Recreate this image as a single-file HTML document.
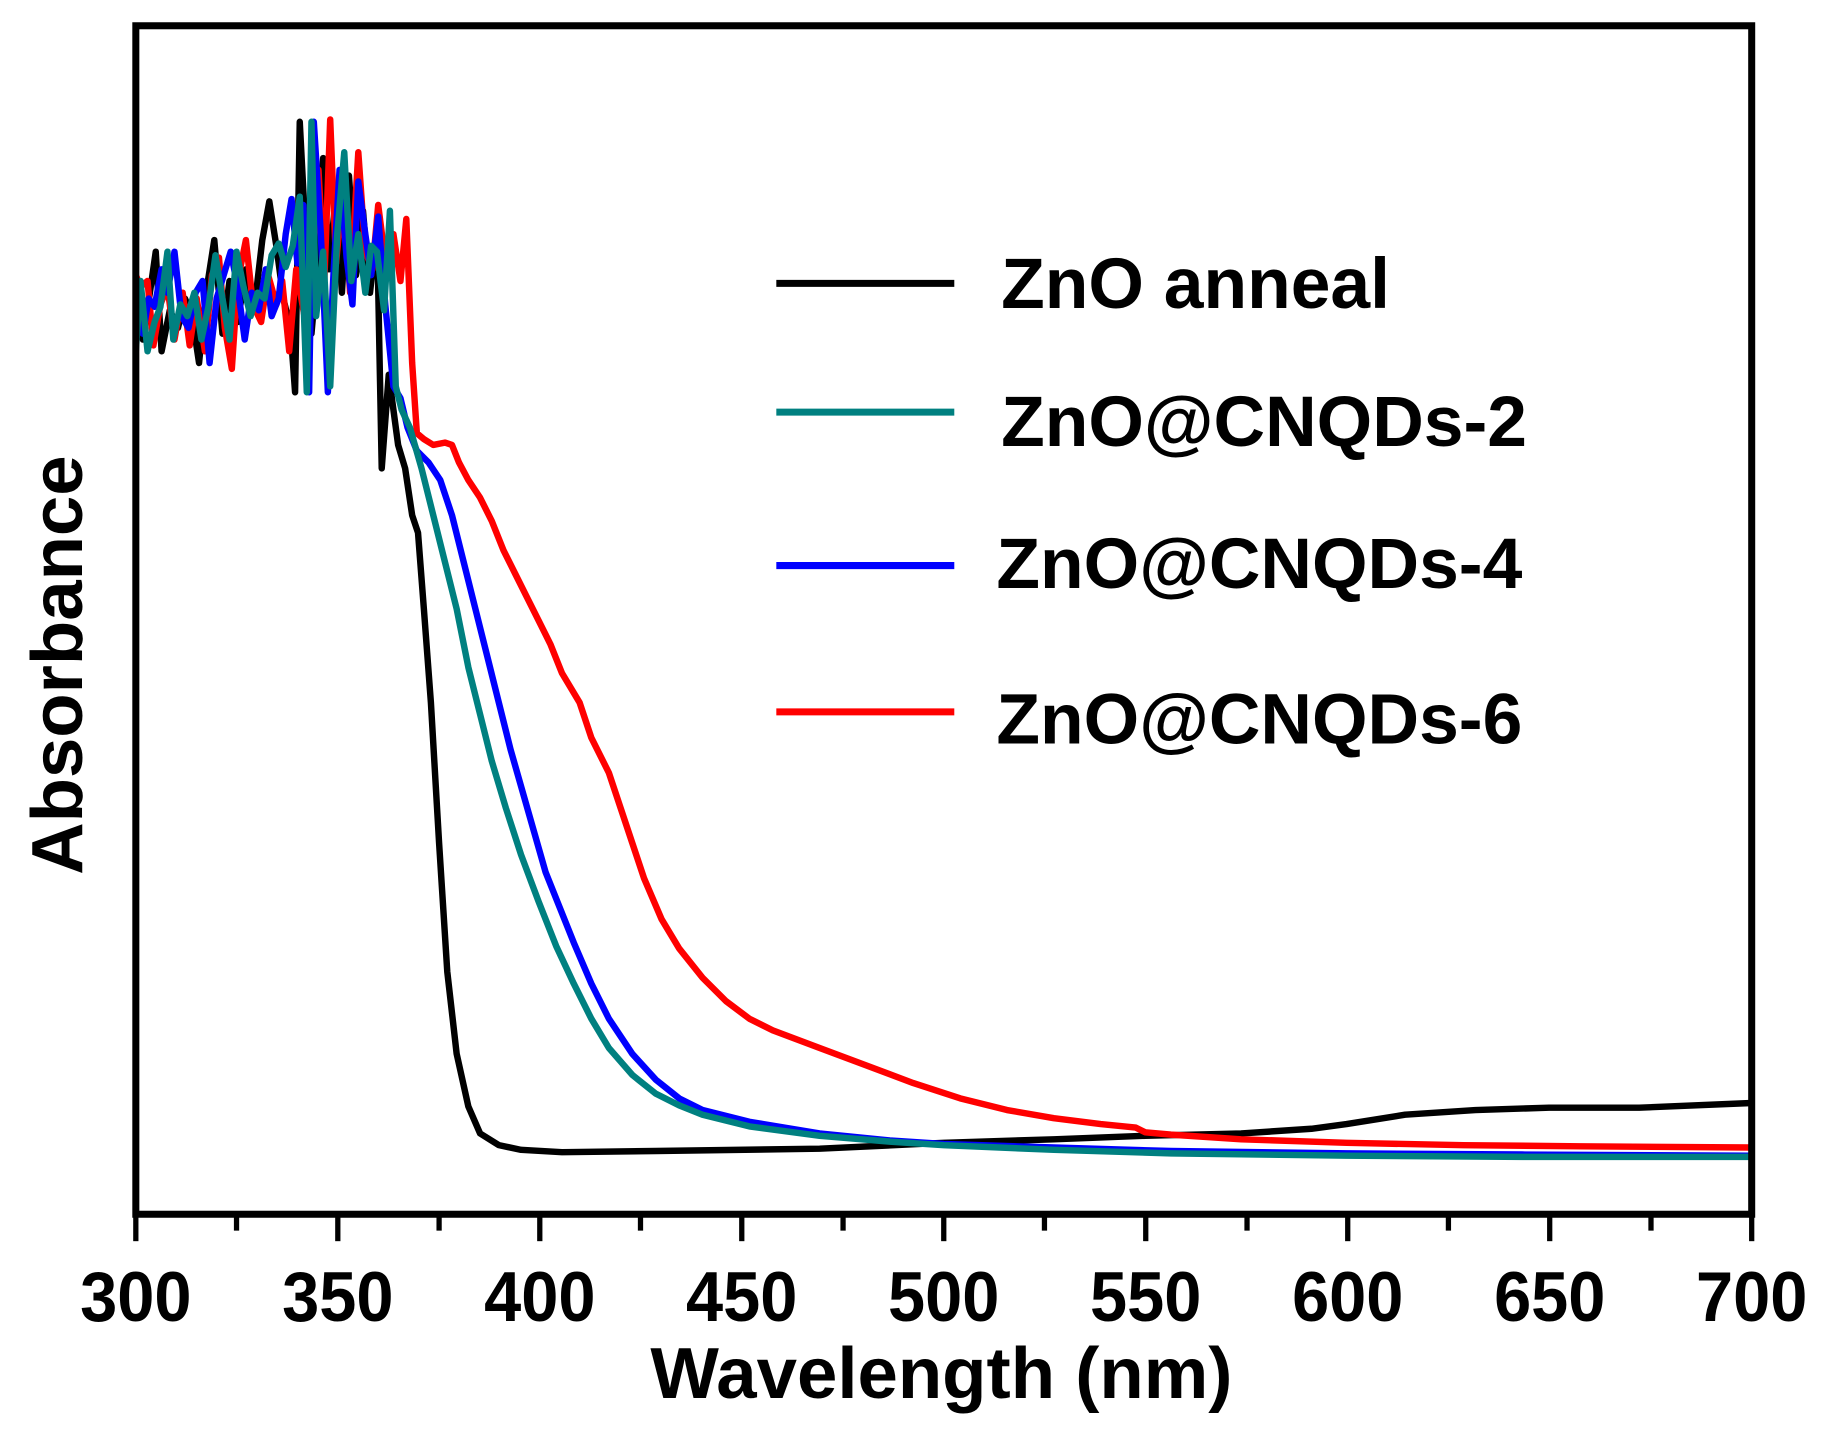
<!DOCTYPE html>
<html><head><meta charset="utf-8"><style>
html,body{margin:0;padding:0;background:#fff}
svg{display:block}
text{font-family:"Liberation Sans",Arial,sans-serif;font-weight:bold;fill:#000}
</style></head><body>
<svg width="1836" height="1440" viewBox="0 0 1568 1229.8" xmlns="http://www.w3.org/2000/svg">
<g fill="none" stroke-width="5.5" stroke-linejoin="round">
<polyline stroke="#000" points="116,240 122,290 128,250 133,215 138,300 145,265 152,280 158,255 164,270 170,310 176,250 183,205 190,285 196,240 203,275 210,230 217,265 224,205 230,172 236,210 242,255 248,280 252,335 256,104 261,200 266,285 270,240 276,135 281,230 287,165 292,250 298,150 304,235 310,180 316,250 322,195 326,400 332,320 340,380 346,400 352,440 357,455 362,520 368,600 375,720 382,830 390,900 400,945 410,968 426,978 445,982 480,984 560,983 700,981 806,976 900,973 978,970 1060,968 1120,964 1150,960 1200,952 1260,948 1323,946 1400,946 1496,942"/>
<polyline stroke="#f00" points="116,235 120,245 126,240 131,295 137,260 143,245 149,290 156,250 162,295 168,255 175,300 181,235 187,220 192,280 198,315 203,240 210,205 216,260 223,275 229,235 236,260 241,240 247,300 253,230 260,270 266,235 272,145 277,240 282,102 287,225 293,160 299,250 306,130 312,215 318,230 323,175 330,230 336,200 342,240 347,187 352,310 356,370 362,375 370,380 380,378 386,380 392,395 400,410 410,425 420,445 430,470 440,490 450,510 460,530 470,550 480,575 495,600 505,630 520,660 530,690 540,720 550,750 565,785 580,810 600,835 620,855 640,870 660,880 700,895 740,910 780,925 820,938 860,948 900,955 940,960 970,963 978,967 1000,969 1060,973 1150,976 1250,978 1350,979 1496,980"/>
<polyline stroke="#00f" points="116,240 122,285 127,255 132,262 138,230 143,250 149,215 155,270 161,280 167,250 173,240 179,310 185,255 191,235 197,215 203,245 209,290 215,250 221,265 227,230 232,270 238,255 244,200 249,170 254,225 259,175 264,335 268,104 274,200 280,335 285,230 290,145 296,220 301,260 306,155 312,200 317,235 323,185 329,260 336,330 342,340 348,365 356,385 366,395 376,410 386,440 396,480 406,520 416,560 426,600 436,640 446,675 456,710 466,745 478,775 490,805 505,840 520,870 540,900 560,922 580,938 600,948 640,958 700,968 760,974 806,977 900,980 1000,983 1150,985 1300,986 1496,987"/>
<polyline stroke="#008080" points="116,300 120,240 126,300 132,275 137,262 143,215 148,290 154,260 160,270 166,250 172,290 178,262 184,218 190,255 196,290 202,215 208,245 214,270 220,250 226,255 232,218 238,208 244,228 250,210 256,168 262,335 266,104 270,270 276,215 282,330 288,200 294,130 300,240 306,200 312,250 317,210 322,215 328,265 333,180 338,330 343,350 350,365 360,400 370,440 380,480 390,520 400,570 410,610 420,650 432,690 445,730 460,770 475,808 490,840 505,870 520,895 540,918 560,934 580,944 600,952 640,962 700,970 760,975 806,978 900,982 1000,985 1150,987 1300,988 1496,988"/>
</g>
<rect x="116" y="22" width="1380" height="1015" fill="none" stroke="#000" stroke-width="6"/>
<g stroke="#000" stroke-width="4.5">
<line x1="116" y1="1037" x2="116" y2="1060"/><line x1="202" y1="1037" x2="202" y2="1051"/>
<line x1="288.5" y1="1037" x2="288.5" y2="1060"/><line x1="375" y1="1037" x2="375" y2="1051"/>
<line x1="461" y1="1037" x2="461" y2="1060"/><line x1="547" y1="1037" x2="547" y2="1051"/>
<line x1="633.5" y1="1037" x2="633.5" y2="1060"/><line x1="720" y1="1037" x2="720" y2="1051"/>
<line x1="806" y1="1037" x2="806" y2="1060"/><line x1="892" y1="1037" x2="892" y2="1051"/>
<line x1="978.5" y1="1037" x2="978.5" y2="1060"/><line x1="1065" y1="1037" x2="1065" y2="1051"/>
<line x1="1151" y1="1037" x2="1151" y2="1060"/><line x1="1237" y1="1037" x2="1237" y2="1051"/>
<line x1="1323.5" y1="1037" x2="1323.5" y2="1060"/><line x1="1410" y1="1037" x2="1410" y2="1051"/>
<line x1="1496" y1="1037" x2="1496" y2="1060"/>
</g>
<g font-size="60" text-anchor="middle" transform="scale(0.95,1)">
<text x="122.1" y="1128">300</text><text x="303.7" y="1128">350</text><text x="485.3" y="1128">400</text>
<text x="666.8" y="1128">450</text><text x="848.4" y="1128">500</text><text x="1030" y="1128">550</text>
<text x="1211.6" y="1128">600</text><text x="1393.2" y="1128">650</text><text x="1574.7" y="1128">700</text>
</g>
<text font-size="62" text-anchor="middle" x="804" y="1194">Wavelength (nm)</text>
<text font-size="62" text-anchor="middle" transform="translate(70,568) rotate(-90)">Absorbance</text>
<g stroke-width="6">
<line x1="663" y1="242" x2="815" y2="242" stroke="#000"/>
<line x1="663" y1="352" x2="815" y2="352" stroke="#008080"/>
<line x1="663" y1="483" x2="815" y2="483" stroke="#00f"/>
<line x1="663" y1="608" x2="815" y2="608" stroke="#f00"/>
</g>
<g font-size="61">
<text x="855" y="263">ZnO anneal</text>
<text x="855" y="381">ZnO@CNQDs-2</text>
<text x="851" y="502">ZnO@CNQDs-4</text>
<text x="851" y="635">ZnO@CNQDs-6</text>
</g>
</svg>
</body></html>
